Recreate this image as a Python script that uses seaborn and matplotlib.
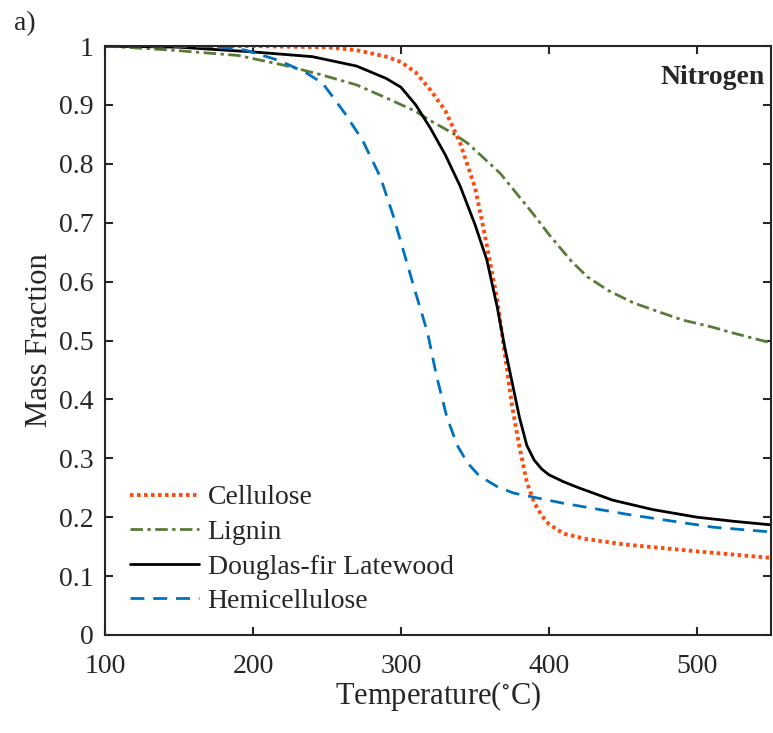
import numpy as np
import pandas as pd
import matplotlib
matplotlib.use("Agg")
import matplotlib.pyplot as plt
import seaborn as sns

cell_T = [100, 200, 250, 270, 290, 300, 310, 320, 330, 340, 350, 355, 360, 365, 370, 375, 380, 385, 390, 395, 400, 410, 425, 450, 500, 550]
cell_m = [1.0, 1.0, 0.998, 0.993, 0.982, 0.973, 0.955, 0.925, 0.89, 0.835, 0.76, 0.70, 0.635, 0.57, 0.48, 0.39, 0.32, 0.26, 0.225, 0.203, 0.188, 0.172, 0.163, 0.154, 0.142, 0.131]

lig_T = [100, 145, 190, 220, 245, 270, 290, 310, 320, 335, 345, 355, 367, 378, 389, 400, 407, 415, 426, 440, 457, 475, 490, 510, 524, 550]
lig_m = [1.0, 0.993, 0.984, 0.968, 0.952, 0.934, 0.912, 0.889, 0.873, 0.852, 0.835, 0.812, 0.784, 0.75, 0.716, 0.68, 0.659, 0.635, 0.608, 0.585, 0.564, 0.548, 0.535, 0.523, 0.513, 0.496]

df_T = [100, 150, 200, 240, 270, 290, 300, 310, 320, 330, 340, 350, 358, 365, 370, 375, 380, 385, 390, 395, 400, 410, 420, 443, 470, 500, 525, 550]
df_m = [1.0, 0.998, 0.99, 0.982, 0.966, 0.945, 0.93, 0.90, 0.86, 0.815, 0.762, 0.697, 0.637, 0.557, 0.49, 0.43, 0.37, 0.322, 0.297, 0.282, 0.272, 0.26, 0.25, 0.229, 0.213, 0.20, 0.193, 0.187]

hemi_T = [100, 175, 195, 217, 235, 247, 255, 262, 274, 286, 295, 304, 310, 318, 324, 331, 338, 345, 353, 365, 376, 409, 455, 511, 550]
hemi_m = [1.0, 0.999, 0.993, 0.976, 0.956, 0.937, 0.91, 0.886, 0.84, 0.778, 0.71, 0.632, 0.58, 0.513, 0.44, 0.37, 0.322, 0.292, 0.27, 0.252, 0.241, 0.224, 0.204, 0.183, 0.175]

labels = ["Cellulose", "Lignin", "Douglas-fir Latewood", "Hemicellulose"]
colors = ["#FF4A0F", "#5A7A38", "#000000", "#0072BD"]

sns.set_style("ticks")
plt.rcParams["font.family"] = ["Liberation Serif", "DejaVu Serif"]
plt.rcParams["mathtext.fontset"] = "stix"

fig = plt.figure(figsize=(7.73, 7.33), dpi=100)
ax = fig.add_axes([0.1358, 0.1337, 0.8616, 0.8035])

series = [(cell_T, cell_m), (lig_T, lig_m), (df_T, df_m), (hemi_T, hemi_m)]
styles = [dict(lw=2.8, dashes=(0.9, 0.9)),
          dict(lw=2.0, dashes=(4.5, 1.6, 1.2, 1.6)),
          dict(lw=2.0, dashes=None),
          dict(lw=2.0, dashes=(5.0, 3.2))]

for (T, m), lab, c, st in zip(series, labels, colors, styles):
    d = pd.DataFrame({"T": T, "m": m})
    sns.lineplot(data=d, x="T", y="m", ax=ax, color=c, lw=st["lw"], label=lab)
    line = ax.get_lines()[-1]
    line.set_solid_joinstyle("round")
    line.set_dash_joinstyle("round")
    if st["dashes"] is not None:
        line.set_dashes(st["dashes"])

ax.set_xlim(100, 550)
ax.set_ylim(0, 1)
ax.set_xticks([100, 200, 300, 400, 500])
ax.set_yticks(np.arange(0, 1.01, 0.1))
ax.set_yticklabels(["0", "0.1", "0.2", "0.3", "0.4", "0.5", "0.6", "0.7", "0.8", "0.9", "1"])
ax.tick_params(direction="in", length=6, width=1.5, labelsize=20, top=True, right=True,
               colors="#262626")
ax.tick_params(axis="x", pad=14)
ax.tick_params(axis="y", pad=8)
for s in ax.spines.values():
    s.set_visible(True)
    s.set_linewidth(1.5)
    s.set_color("#262626")

ax.set_xlabel("Temperature($^{\\circ}$C)", fontsize=22, color="#262626", labelpad=0)
ax.set_ylabel("Mass Fraction", fontsize=22, color="#262626", labelpad=4)

ax.text(0.99, 0.947, "Nitrogen", transform=ax.transAxes, ha="right", va="center",
        fontsize=20, fontweight="bold")
fig.text(0.018, 0.968, "a)", fontsize=20, ha="left", va="center")

leg = ax.legend(loc="lower left", bbox_to_anchor=(0.006, 0.0), frameon=False, fontsize=20,
                handlelength=2.5, handletextpad=0.3, labelspacing=0.33, borderaxespad=0.35)

fig.savefig("out.png", dpi=100)
